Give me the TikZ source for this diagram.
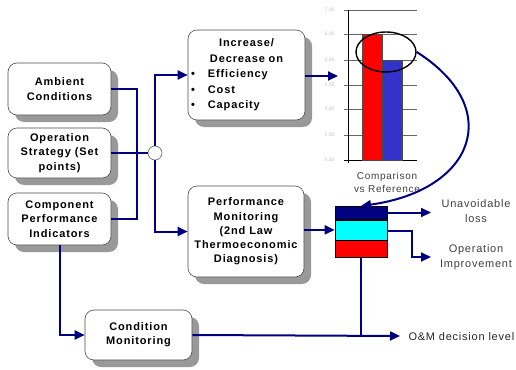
\documentclass[tikz,border=0pt]{standalone}
\usepackage{fontspec}
\setmainfont{Liberation Sans}
\newfontfamily\boxfont{Liberation Sans}[LetterSpace=8]
\newfontfamily\lblfont{Liberation Sans}[LetterSpace=7]
\usetikzlibrary{arrows.meta,shadows,shapes.geometric}
\definecolor{navy}{RGB}{0,0,128}
\definecolor{barblue}{RGB}{51,51,204}
\definecolor{cyanfill}{RGB}{0,255,255}
\definecolor{redfill}{RGB}{255,0,0}
\tikzset{
  box/.style={draw=black!70, line width=0.6pt, fill=white, rounded corners=9pt,
    align=center, inner sep=2pt, font=\boxfont\bfseries\fontsize{11}{14.3}\selectfont,
    drop shadow={shadow xshift=7pt, shadow yshift=-7pt, fill=black!40, opacity=1}},
  conn/.style={draw=navy, line width=2pt},
  arr/.style={conn, -{Triangle[length=10pt,width=9pt]}},
  lbl/.style={align=center, text=black!75, font=\lblfont\fontsize{11}{15}\selectfont},
  stackbox/.style={draw=black, line width=0.6pt, minimum width=52pt, inner sep=0pt},
  tick/.style={text=black!25, font=\fontsize{5}{5}\selectfont, anchor=east}
}
\begin{document}
\begin{tikzpicture}[x=1pt,y=-1pt]
\useasboundingbox (0,0) rectangle (516,369);

% left boxes
\node[box, minimum width=103pt, minimum height=52pt] (amb) at (59.5,89) {Ambient\\Conditions};
\node[box, minimum width=103pt, minimum height=50pt] (op) at (59.5,153) {Operation\\Strategy (Set\\points)};
\node[box, minimum width=103pt, minimum height=52pt] (comp) at (59.5,219) {Component\\Performance\\Indicators};

% middle boxes
\node[box, minimum width=117pt, minimum height=90pt, text width=111pt, align=left, inner xsep=3pt,
  font=\boxfont\bfseries\fontsize{11}{15.5}\selectfont] (inc) at (246.5,75)
  {\makebox[111pt]{Increase/}\\\makebox[111pt]{Decrease on}\\
   \textbullet\hspace{13pt}Efficiency\\\textbullet\hspace{13pt}Cost\\\textbullet\hspace{13pt}Capacity};
\node[box, minimum width=116pt, minimum height=91pt] (perf) at (246,231.5)
  {Performance\\Monitoring\\(2nd Law\\Thermoeconomic\\Diagnosis)};
\node[box, minimum width=107pt, minimum height=50pt] (cond) at (138.5,335) {Condition\\Monitoring};

% hub
\node[circle, draw=black!60, fill=white, line width=0.6pt, minimum size=14pt, inner sep=0pt] (hub) at (155,153) {};
\coordinate (bus) at (137,153);

\draw[conn] (amb.east) -| (bus) |- (comp.east);
\draw[conn] (op.east) -- (hub.west);
\draw[arr] (hub.north) |- (inc.west);
\draw[arr] (hub.south) |- (perf.west);

% chart
\foreach \y in {10,34,60,85,109,135}
  \draw[black!60, line width=0.8pt] (344,\y) -- (417,\y);
\draw[black, line width=0.8pt] (348,10) -- (348,163);
\draw[black, line width=0.8pt] (344,160) -- (417,160);
\node[tick] at (338,10) {7.00};
\node[tick] at (338,34) {6.00};
\node[tick] at (338,60) {5.00};
\node[tick] at (338,85) {4.00};
\node[tick] at (338,109) {3.00};
\node[tick] at (338,135) {2.00};
\node[tick] at (338,160) {0.00};
\draw[black!70, line width=0.5pt, fill=redfill] (362,34) rectangle (382,160);
\draw[black!70, line width=0.5pt, fill=barblue] (382,60) rectangle (402,160);
\node[draw=black, line width=1.4pt, ellipse, minimum width=60pt, minimum height=40pt, inner sep=0pt] (ell) at (386,52) {};
\node[lbl, font=\lblfont\fontsize{10}{13}\selectfont] (cmp) at (387,182) {Comparison\\vs Reference};
\coordinate (chartin) at (338,76);
\draw[arr] (inc.east |- chartin) -- (chartin);

% stack
\node[stackbox, fill=navy, minimum height=13pt, anchor=north] (s1) at (361,206) {};
\node[stackbox, fill=cyanfill, minimum height=20pt, anchor=north] (s2) at (s1.south) {};
\node[stackbox, fill=redfill, minimum height=17pt, anchor=north] (s3) at (s2.south) {};

\draw[arr] (ell.east) .. controls (505,108) and (475,190) .. (s1.north);
\draw[arr] (perf.east |- s2.west) -- (s2.west);

% outputs
\node[lbl] (ul) at (476,211) {Unavoidable\\loss};
\node[lbl] (oi) at (476,257) {Operation\\Improvement};
\coordinate (ulend) at (431,212.5);
\coordinate (oiend) at (431,257);
\coordinate (oibend) at (412,231);
\draw[arr] (s1.east |- ulend) -- (ulend);
\draw[arr] (s2.east |- oibend) -| (oibend |- oiend) -- (oiend);

\node[lbl, anchor=west, text=black!85] (om) at (405,337) {O\&M decision level};
\coordinate (omend) at (400,336);
\coordinate (omjoin) at (361,336);
\draw[arr] (cond.east) -- (omend);
\draw[conn] (s3.south) -- (omjoin);
\draw[arr] (comp.south) |- (cond.west);
\end{tikzpicture}
\end{document}
